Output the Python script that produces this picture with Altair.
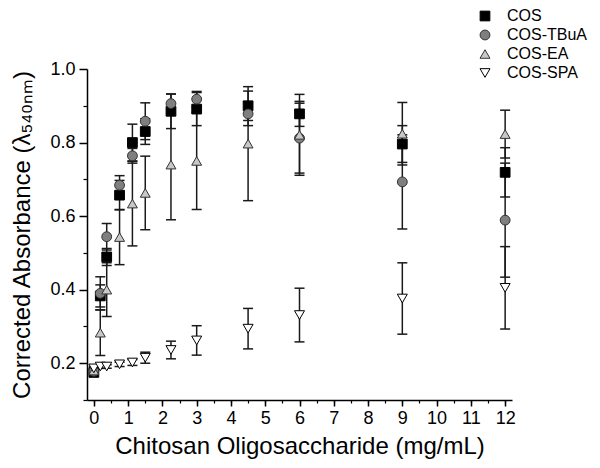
import altair as alt
import pandas as pd

# ---- data ----
conc = [0, 0.1875, 0.375, 0.75, 1.125, 1.5, 2.25, 3, 4.5, 6, 9, 12]

cos_mean = [0.175, 0.383, 0.489, 0.657, 0.800, 0.830, 0.885, 0.891, 0.900, 0.878, 0.796, 0.719]
cos_err = [0.006, 0.030, 0.023, 0.040, 0.050, 0.035, 0.047, 0.045, 0.040, 0.034, 0.050, 0.067]

tbua_mean = [0.178, 0.390, 0.544, 0.684, 0.764, 0.858, 0.906, 0.918, 0.878, 0.812, 0.693, 0.589]
tbua_err = [0.006, 0.045, 0.036, 0.026, 0.020, 0.050, 0.026, 0.021, 0.032, 0.095, 0.128, 0.155]

ea_mean = [0.180, 0.283, 0.400, 0.543, 0.634, 0.663, 0.740, 0.750, 0.797, 0.821, 0.824, 0.823]
ea_err = [0.006, 0.062, 0.073, 0.075, 0.115, 0.100, 0.150, 0.132, 0.155, 0.110, 0.085, 0.065]

spa_mean = [0.186, 0.191, 0.191, 0.197, 0.202, 0.215, 0.236, 0.262, 0.294, 0.331, 0.376, 0.405]
spa_err = [0.005, 0.005, 0.005, 0.006, 0.008, 0.015, 0.024, 0.040, 0.055, 0.073, 0.097, 0.112]

series_names = ["COS", "COS-TBuA", "COS-EA", "COS-SPA"]
x_major = list(range(0, 13))
x_minor = [i * 0.5 for i in range(0, 25)]
y_major = [0.2, 0.4, 0.6, 0.8, 1.0]
y_minor = [0.1, 0.3, 0.5, 0.7, 0.9]

rows = []
for name, means, errs in zip(series_names,
                             [cos_mean, tbua_mean, ea_mean, spa_mean],
                             [cos_err, tbua_err, ea_err, spa_err]):
    for c, m, e in zip(conc, means, errs):
        rows.append({"series": name, "x": c, "y": m, "lo": m - e, "hi": m + e})
df = pd.DataFrame(rows)

FONT = "Liberation Sans"
xs = alt.Scale(domain=[-0.2, 12.2], nice=False, zero=False)
ys = alt.Scale(domain=[0.1, 1.0], nice=False, zero=False)

base = alt.Chart(df)

axis_major = base.mark_point(opacity=0).encode(
    x=alt.X("x:Q", scale=xs, axis=alt.Axis(
        values=x_major, format="d", orient="bottom", title="Chitosan Oligosaccharide (mg/mL)",
        tickSize=6, tickWidth=1.5, domainWidth=1.5, domainColor="black", tickColor="black",
        labelFontSize=18, labelFont=FONT, labelColor="black", labelPadding=3,
        titleFontSize=24, titleFont=FONT, titleFontWeight="normal", titleColor="black",
        titlePadding=7, grid=False, labelFlush=False)),
    y=alt.Y("y:Q", scale=ys, axis=alt.Axis(
        values=y_major, format=".1f", orient="left", title="Corrected Absorbance (λ₅₄₀ₙₘ)",
        tickSize=8, tickWidth=1.5, domainWidth=1.5, domainColor="black", tickColor="black",
        labelFontSize=18, labelFont=FONT, labelColor="black", labelPadding=4,
        titleFontSize=24, titleFont=FONT, titleFontWeight="normal", titleColor="black",
        titlePadding=15, grid=False, labelFlush=False)),
)

axis_minor = base.mark_point(opacity=0).encode(
    x=alt.X("x:Q", scale=xs, axis=alt.Axis(
        values=x_minor, labels=False, domain=False, orient="bottom", title=None,
        tickSize=3, tickWidth=1.2, tickColor="black", grid=False)),
    y=alt.Y("y:Q", scale=ys, axis=alt.Axis(
        values=y_minor, labels=False, domain=False, orient="left", title=None,
        tickSize=4, tickWidth=1.2, tickColor="black", grid=False)),
)

X = alt.X("x:Q", scale=xs, axis=None)

rules = base.mark_rule(color="#1a1a1a", strokeWidth=1.5).encode(
    x=X, y=alt.Y("lo:Q", scale=ys, axis=None), y2="hi:Q")
cap_hi = base.mark_tick(orient="horizontal", size=10, thickness=1.5, color="#1a1a1a", opacity=1).encode(
    x=X, y=alt.Y("hi:Q", scale=ys, axis=None))
cap_lo = base.mark_tick(orient="horizontal", size=10, thickness=1.5, color="#1a1a1a", opacity=1).encode(
    x=X, y=alt.Y("lo:Q", scale=ys, axis=None))

legend = alt.Legend(orient="none", legendX=390, legendY=-61, title=None,
                    labelFontSize=16, labelFont=FONT, labelColor="black",
                    rowPadding=3, labelOffset=14, symbolStrokeWidth=1)

points = base.mark_point(opacity=1, fillOpacity=1, strokeWidth=1).encode(
    x=X,
    y=alt.Y("y:Q", scale=ys, axis=None),
    shape=alt.Shape("series:N", sort=series_names, legend=legend, scale=alt.Scale(
        domain=series_names, range=["square", "circle", "triangle-up", "triangle-down"])),
    fill=alt.Fill("series:N", sort=series_names, legend=legend, scale=alt.Scale(
        domain=series_names, range=["#000000", "#7f7f7f", "#c8c8c8", "#ffffff"])),
    stroke=alt.Stroke("series:N", sort=series_names, legend=legend, scale=alt.Scale(
        domain=series_names, range=["#000000", "#333333", "#333333", "#000000"])),
    size=alt.Size("series:N", sort=series_names, legend=legend, scale=alt.Scale(
        domain=series_names, range=[95, 100, 165, 165])),
    order=alt.Order("ord:Q"),
).transform_calculate(
    ord="indexof(['COS','COS-TBuA','COS-EA','COS-SPA'], datum.series)"
)

chart = alt.layer(axis_major, axis_minor, rules, cap_hi, cap_lo, points).resolve_axis(
    x="independent", y="independent"
).properties(
    width=425, height=331,
    padding={"left": 79, "top": 61, "right": 80, "bottom": 60},
    autosize=alt.AutoSizeParams(type="none"),
).configure_view(stroke=None)

chart.save("out.html", embed_options={"renderer": "svg", "actions": False})
